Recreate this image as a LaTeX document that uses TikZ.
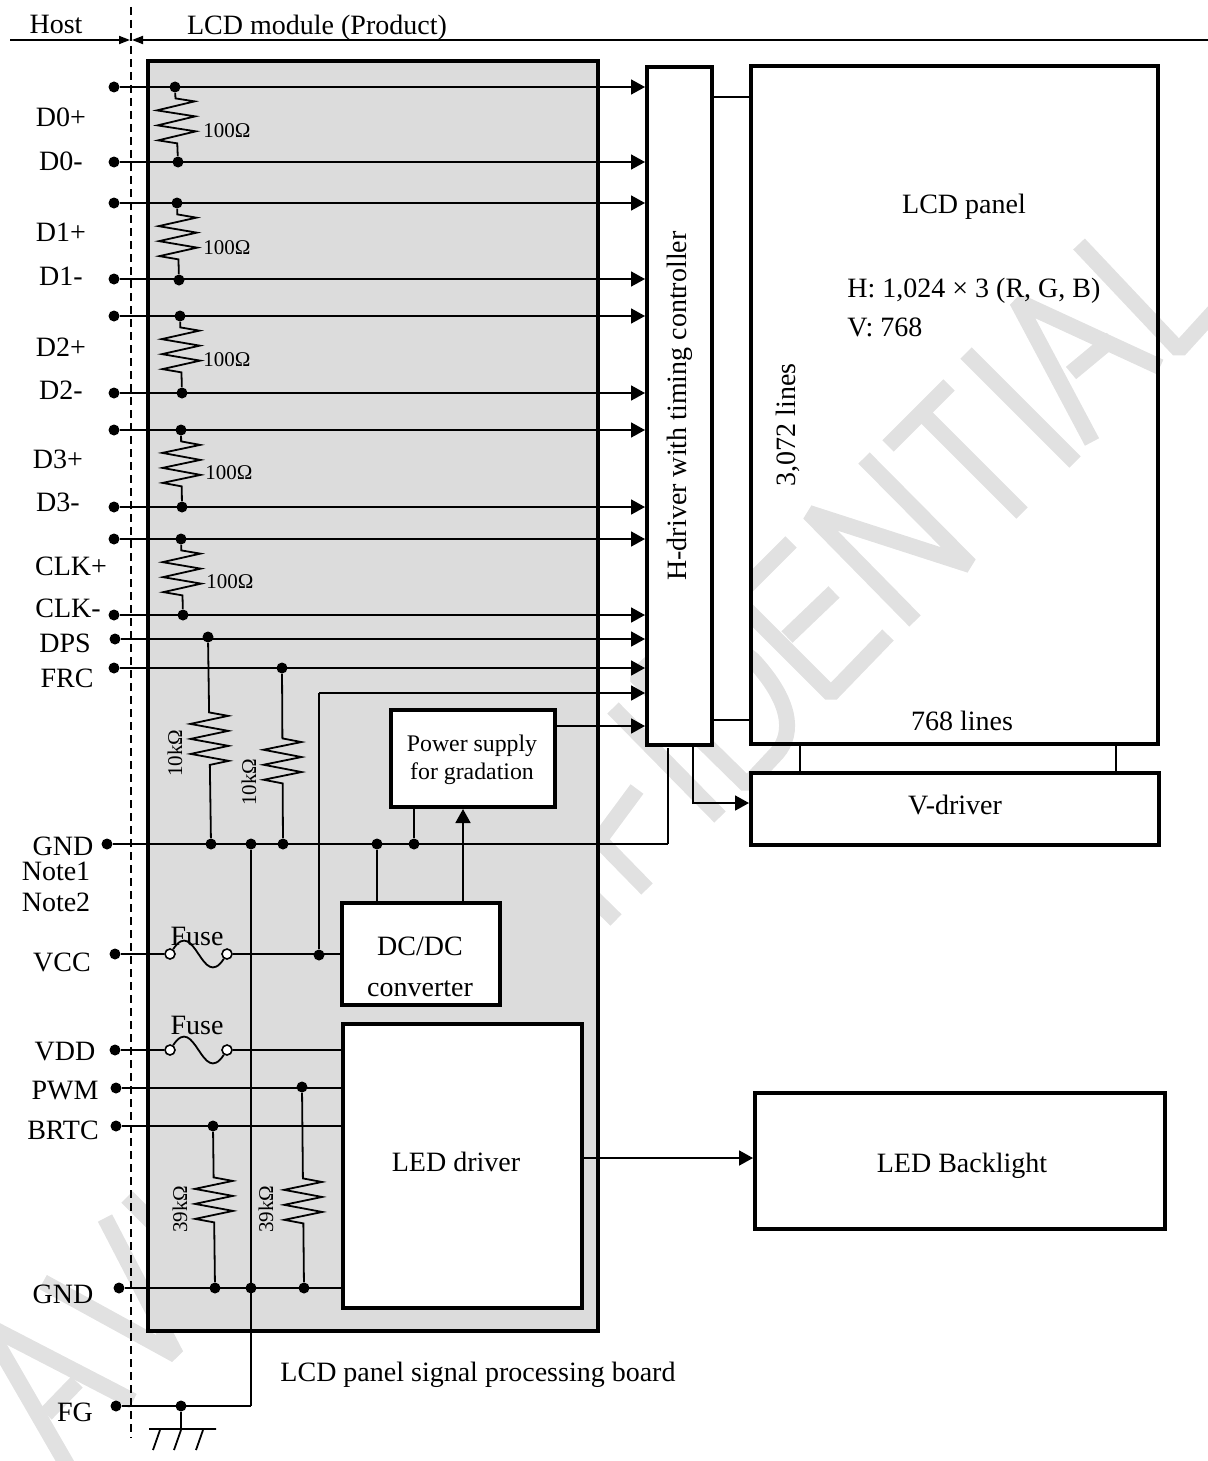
\documentclass[tikz,border=0pt]{standalone}
\usepackage{fontspec}
\setmainfont{Liberation Serif}
\usetikzlibrary{arrows.meta,decorations.pathmorphing}
\definecolor{wmgray}{HTML}{E1E1E1}
\definecolor{boardgray}{HTML}{DCDCDC}

\begin{document}
\begin{tikzpicture}[x=0.5pt,y=-0.5pt,
   font=\fontsize{14}{16}\selectfont,
   wmark/.style={draw=wmgray,line width=8pt,line join=bevel},
   wire/.style={line width=0.9pt},
   transition/.style={-{Triangle[length=7pt,width=7.5pt]},line width=0.9pt},
   boundary/.style={-{Triangle[length=5.5pt,width=4pt]},line width=0.9pt},
   dot/.style={circle,fill=black,inner sep=0pt,minimum size=5.5pt},
   opendot/.style={circle,draw,fill=white,line width=0.8pt,inner sep=0pt,minimum size=5pt},
   box/.style={draw,fill=white,line width=2pt,inner sep=0pt,align=center},
   link/.style={draw,fill=white,line width=0.8pt,inner sep=0pt},
   small/.style={font=\fontsize{10.5}{12}\selectfont},
   resistor/.style={wire,decorate,decoration={zigzag,amplitude=9.5pt,segment length=7.5pt,pre length=#1,post length=3.75pt}},
   lbl/.style={inner sep=0pt}]
\useasboundingbox (0,0) rectangle (1208,1461);

\draw[wmark] (-10,1327) -- (133,1401);
\draw[wmark] (-5,1340) -- (70,1470);
\draw[wmark] (77,1382) -- (46,1414);
\draw[wmark] (43,1282) -- (176,1355) -- (105,1218);
\draw[wmark] (127,1197) -- (170,1240);
\draw[wmark] (570,875) -- (616,920);
\draw[wmark] (560,800) -- (647,889);
\draw[wmark] (603,835) -- (637,789);
\draw[wmark] (613,708) -- (720,817);
\draw[wmark] (700,618) -- (636,676) -- (747,785) -- (777,753) .. controls (795,732) and (790,700) .. (753,660) -- (700,618);
\draw[wmark] (791,542) -- (735,598) -- (831,694) -- (888,635);
\draw[wmark] (787,637) -- (834,592);
\draw[wmark] (915,621) -- (809,513) -- (970,565) -- (864,458);
\draw[wmark] (888,446) -- (949,385);
\draw[wmark] (922,413) -- (1022,513);
\draw[wmark] (966,353) -- (1075,462);
\draw[wmark] (1092,442) -- (1017,301) -- (1160,367);
\draw[wmark] (1071,373) -- (1112,339);
\draw[wmark] (1079,244) -- (1179,350) -- (1220,305);

\node[draw,fill=boardgray,line width=2pt,inner sep=0pt,minimum width=225pt,minimum height=635pt] (board) at (373,696) {};
\node[link,minimum width=19.5pt,minimum height=311.5pt] (hlink) at (731.5,408.5) {};
\node[link,minimum width=158pt,minimum height=14.5pt] (vlink) at (958,758.5) {};
\node[box,minimum width=32.5pt,minimum height=339pt] (hdrv) at (679.5,406) {\rotatebox{90}{H-driver with timing controller}};
\node[box,fill=none,minimum width=203.5pt,minimum height=339pt] (lcd) at (954.5,405) {};
\node[box,minimum width=204pt,minimum height=36pt] (vdrv) at (955,809) {};
\node[box,minimum width=82pt,minimum height=48.5pt] (power) at (473,758.5) {};
\node[box,minimum width=79pt,minimum height=51pt] (dcdc) at (421,954) {};
\node[box,minimum width=119.5pt,minimum height=142pt] (led) at (462.5,1166) {};
\node[box,minimum width=205pt,minimum height=68pt] (back) at (960,1161) {};

\node[dot] (d0p) at (114,87) {};
\node[dot] (d0n) at (114,162) {};
\node[dot] (d1p) at (114,203) {};
\node[dot] (d1n) at (114,279) {};
\node[dot] (d2p) at (114,316) {};
\node[dot] (d2n) at (114,393) {};
\node[dot] (d3p) at (114,430) {};
\node[dot] (d3n) at (114,507) {};
\node[dot] (clkp) at (114,539) {};
\node[dot] (clkn) at (114,615) {};
\node[dot] (dps) at (115,639) {};
\node[dot] (frc) at (114,668) {};
\node[dot] (gnda) at (107,844) {};
\node[dot] (vcc) at (115,954) {};
\node[dot] (vdd) at (115,1050) {};
\node[dot] (pwm) at (116,1088) {};
\node[dot] (brtc) at (116,1126) {};
\node[dot] (gndb) at (119,1288) {};
\node[dot] (fg) at (116,1406) {};

\node[dot] (r0a) at (175,87) {};
\node[dot] (r0b) at (178,162) {};
\node[dot] (r1a) at (177,203) {};
\node[dot] (r1b) at (179,280) {};
\node[dot] (r2a) at (180,316) {};
\node[dot] (r2b) at (182,393) {};
\node[dot] (r3a) at (181,430) {};
\node[dot] (r3b) at (182,507) {};
\node[dot] (r4a) at (181,539) {};
\node[dot] (r4b) at (183,615) {};
\node[dot] (r5a) at (208,637) {};
\node[dot] (r5b) at (211,844) {};
\node[dot] (r6a) at (282,668) {};
\node[dot] (r6b) at (283,844) {};
\node[dot] (r7a) at (213,1126) {};
\node[dot] (r7b) at (215,1288) {};
\node[dot] (r8a) at (302,1087) {};
\node[dot] (r8b) at (304,1288) {};
\node[dot] (ga) at (251,844) {};
\node[dot] (gb) at (377,844) {};
\node[dot] (gc) at (414,844) {};
\node[dot] (gd) at (251,1288) {};
\node[dot] (vccj) at (319,955) {};
\node[dot] (fgj) at (181,1406) {};

\node[opendot] (f1a) at (170,954) {};
\node[opendot] (f1b) at (227,954) {};
\node[opendot] (f2a) at (170,1050) {};
\node[opendot] (f2b) at (227,1050) {};

\coordinate (hostl) at (10,40);
\coordinate (hostm) at (130,40);
\coordinate (lcdm) at (132,40);
\coordinate (lcdr) at (1208,40);
\coordinate (dasht) at (131,7);
\coordinate (dashb) at (131,1438);
\coordinate (gndtop) at (668,748);
\coordinate (gndh) at (668,844);
\coordinate (vccl) at (319,693);
\coordinate (pout) at (557,726);
\coordinate (hvtop) at (693,746);
\coordinate (hvend) at (749,803);
\coordinate (ledout) at (584,1158);
\coordinate (fgc) at (251,1406);
\coordinate (earth) at (181,1429);
\coordinate (dcpa) at (463,901);
\coordinate (dcpb) at (463,809);
\coordinate (dcg) at (377,901);
\coordinate (powg) at (414,809);

\path
    (hostl) edge[boundary] (hostm)
    (lcdr) edge[boundary] (lcdm)
    (d0p) edge[transition] (d0p -| hdrv.west)
    (d0n) edge[transition] (d0n -| hdrv.west)
    (d1p) edge[transition] (d1p -| hdrv.west)
    (d1n) edge[transition] (d1n -| hdrv.west)
    (d2p) edge[transition] (d2p -| hdrv.west)
    (d2n) edge[transition] (d2n -| hdrv.west)
    (d3p) edge[transition] (d3p -| hdrv.west)
    (d3n) edge[transition] (d3n -| hdrv.west)
    (clkp) edge[transition] (clkp -| hdrv.west)
    (clkn) edge[transition] (clkn -| hdrv.west)
    (dps) edge[transition] (dps -| hdrv.west)
    (frc) edge[transition] (frc -| hdrv.west)
    (vccl) edge[transition] (vccl -| hdrv.west)
    (pout) edge[transition] (pout -| hdrv.west)
    (dcpa) edge[transition] (dcpb)
    (ledout) edge[transition] (ledout -| back.west)
    (gnda) edge[wire] (gndh)
    (gndh) edge[wire] (gndtop)
    (vcc) edge[wire] (f1a)
    (f1b) edge[wire] (vccj |- f1b)
    (vccj |- f1b) edge[wire] (dcdc.west |- f1b)
    (vccj) edge[wire] (vccl)
    (vdd) edge[wire] (f2a)
    (f2b) edge[wire] (led.west |- f2b)
    (pwm) edge[wire] (led.west |- pwm)
    (brtc) edge[wire] (led.west |- brtc)
    (gndb) edge[wire] (led.west |- gndb)
    (ga) edge[wire] (fgc)
    (fg) edge[wire] (fgc)
    (gb) edge[wire] (dcg)
    (gc) edge[wire] (powg)
    (fgj) edge[wire] (earth)
;

\draw[transition] (hvtop) |- (hvend);
\draw[wire,dash pattern=on 4pt off 2.5pt] (dasht) -- (dashb);
\draw[wire] (f1a) .. controls +(25,-38) and +(-25,38) .. (f1b);
\draw[wire] (f2a) .. controls +(25,-38) and +(-25,38) .. (f2b);
\draw[wire] (149,1429) -- (216,1429) (160,1430) -- (153,1450) (181,1430) -- (174,1450) (203,1430) -- (196,1450);

\draw[resistor=2.75pt] (r0a) -- (r0b);
\draw[resistor=2.75pt] (r1a) -- (r1b);
\draw[resistor=2.75pt] (r2a) -- (r2b);
\draw[resistor=2.75pt] (r3a) -- (r3b);
\draw[resistor=2.75pt] (r4a) -- (r4b);
\draw[resistor=34.75pt,decoration={post length=35.25pt}] (r5a) -- (r5b);
\draw[resistor=32.25pt,decoration={post length=23.75pt}] (r6a) -- (r6b);
\draw[resistor=22.75pt,decoration={post length=26.25pt}] (r7a) -- (r7b);
\draw[resistor=42.75pt,decoration={post length=26.25pt}] (r8a) -- (r8b);

\node[lbl,small] (r0l) at (227,131) {100Ω};
\node[lbl,small] (r1l) at (227,248) {100Ω};
\node[lbl,small] (r2l) at (227,360) {100Ω};
\node[lbl,small] (r3l) at (229,473) {100Ω};
\node[lbl,small] (r4l) at (230,582) {100Ω};
\node[lbl,small,rotate=90] (r5l) at (175,753) {10kΩ};
\node[lbl,small,rotate=90] (r6l) at (249,782) {10kΩ};
\node[lbl,small,rotate=90] (r7l) at (180,1209) {39kΩ};
\node[lbl,small,rotate=90] (r8l) at (266,1209) {39kΩ};

\node[lbl] (host) at (56,24) {Host};
\node[lbl] (module) at (317,28) {LCD module (Product)};
\node[lbl] (d0pl) at (61,117) {D0+};
\node[lbl] (d0nl) at (61,161) {D0-};
\node[lbl] (d1pl) at (61,232) {D1+};
\node[lbl] (d1nl) at (61,276) {D1-};
\node[lbl] (d2pl) at (61,347) {D2+};
\node[lbl] (d2nl) at (61,390) {D2-};
\node[lbl] (d3pl) at (58,459) {D3+};
\node[lbl] (d3nl) at (58,502) {D3-};
\node[lbl] (clkpl) at (71,566) {CLK+};
\node[lbl] (clknl) at (68,608) {CLK-};
\node[lbl] (dpsl) at (65,643) {DPS};
\node[lbl] (frcl) at (67,678) {FRC};
\node[lbl] (gndal) at (63,846) {GND};
\node[lbl] (note1) at (56,871) {Note1};
\node[lbl] (note2) at (56,902) {Note2};
\node[lbl] (vccn) at (62,962) {VCC};
\node[lbl] (vddl) at (65,1052) {VDD};
\node[lbl] (pwml) at (65,1091) {PWM};
\node[lbl] (brtcl) at (63,1130) {BRTC};
\node[lbl] (gndbl) at (63,1294) {GND};
\node[lbl] (fgl) at (75,1412) {FG};
\node[lbl] (fuse1) at (197,936) {Fuse};
\node[lbl] (fuse2) at (197,1025) {Fuse};
\node[lbl] (dcl1) at (420,946) {DC/DC};
\node[lbl] (dcl2) at (420,989) {converter};
\node[lbl,align=center,font=\fontsize{11.9}{14}\selectfont] (powl) at (472,760) {Power supply\\for gradation};
\node[lbl] (ledl) at (456,1162) {LED driver};
\node[lbl] (backl) at (962,1166) {LED Backlight};
\node[lbl] (vdrvl) at (955,805) {V-driver};
\node[lbl] (lcdl) at (964,207) {LCD panel};
\node[lbl,anchor=west] (resh) at (847,291) {H: 1,024 × 3 (R, G, B)};
\node[lbl,anchor=west] (resv) at (847,327) {V: 768};
\node[lbl,rotate=90] (hlines) at (788,425) {3,072 lines};
\node[lbl] (vlines) at (962,721) {768 lines};
\node[lbl] (boardl) at (478,1375) {LCD panel signal processing board};
\end{tikzpicture}
\end{document}
